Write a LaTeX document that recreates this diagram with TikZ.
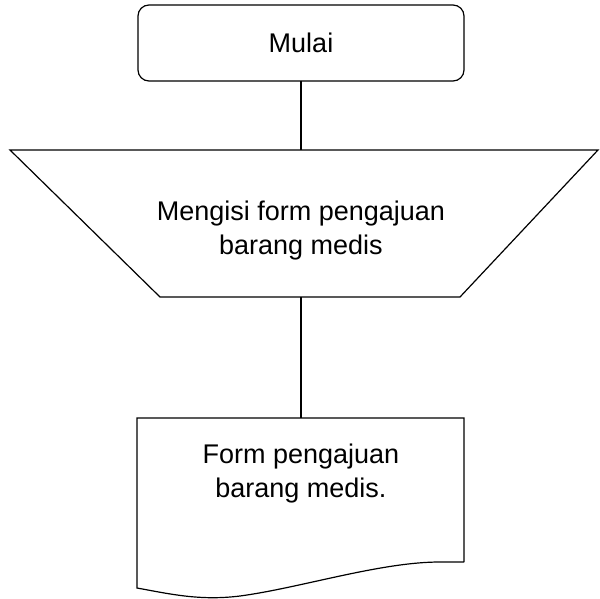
\documentclass[tikz,border=0pt]{standalone}
\usepackage{fontspec}
\setmainfont{Liberation Sans}
\begin{document}
\begin{tikzpicture}[x=1pt,y=-1pt,
  shp/.style={draw=black,line width=1.2pt},
  lbl/.style={font=\fontsize{27}{34}\selectfont,align=center,inner sep=0pt},
  conn/.style={draw=black,line width=1.2pt}]
\useasboundingbox[fill=white] (0,0) rectangle (600,599);
% start
\draw[shp,rounded corners=11pt] (138,5) rectangle (464,81);
\node[lbl] (start) at (301,43) {Mulai};
\coordinate (startS) at (301,81);
% manual operation trapezoid
\draw[shp,line join=miter] (10,150) -- (598,150) -- (460,297) -- (160,297) -- cycle;
\node[lbl] (manual) at (301,231) {Mengisi form pengajuan\\barang medis};
\coordinate (manN) at (301,150);
\coordinate (manS) at (301,297);
% document
\draw[shp] (464,562) -- (464,418) -- (137,418) -- (137,588)
  .. controls (170,594) and (200,601) .. (240,596)
  .. controls (300,588) and (380,562) .. (440,562) -- (464,562);
\node[lbl] (doc) at (301,474) {Form pengajuan\\barang medis.};
\coordinate (docN) at (301,418);
% connectors
\draw[conn] (startS) -- (manN);
\draw[conn] (manS) -- (docN);
\end{tikzpicture}
\end{document}
